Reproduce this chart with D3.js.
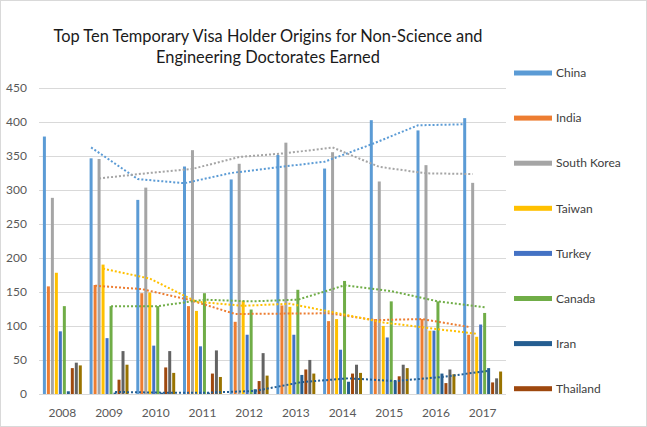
<!DOCTYPE html>
<html>
<head>
  <meta charset="utf-8">
  <script src="https://cdn.jsdelivr.net/npm/d3@7"></script>
  <style>
    body { margin: 0; background: #fff; }
    text { font-family: Lato, "Open Sans", sans-serif; }
  </style>
</head>
<body>
  <svg id="chart" width="647" height="427"></svg>
  <script>
    var years = [2008, 2009, 2010, 2011, 2012, 2013, 2014, 2015, 2016, 2017];
    var countries = ["China", "India", "South Korea", "Taiwan", "Turkey", "Canada", "Iran", "Thailand", "Japan", "Saudi Arabia"];
    var colors = ["#5B9BD5", "#ED7D31", "#A5A5A5", "#FFC000", "#4472C4", "#70AD47", "#255E91", "#9E480E", "#636363", "#997300"];

    var china = [378, 346, 285, 334, 315, 351, 331, 402, 387, 405];
    var india = [158, 160, 148, 129, 106, 130, 107, 110, 110, 87];
    var southKorea = [288, 345, 303, 358, 338, 369, 355, 312, 336, 310];
    var taiwan = [178, 190, 149, 122, 137, 128, 110, 100, 93, 84];
    var turkey = [92, 82, 71, 70, 87, 87, 65, 83, 93, 102];
    var canada = [129, 129, 129, 148, 124, 153, 166, 136, 136, 119];
    var iran = [4, 2, 2, 2, 7, 28, 18, 20, 30, 38];
    var thailand = [38, 21, 39, 30, 19, 36, 30, 26, 16, 17];
    var japan = [46, 63, 63, 64, 60, 50, 43, 43, 36, 23];
    var saudiArabia = [42, 43, 31, 25, 27, 30, 31, 38, 29, 33];

    var values = [china, india, southKorea, taiwan, turkey, canada, iran, thailand, japan, saudiArabia];
    var yTicks = [0, 50, 100, 150, 200, 250, 300, 350, 400, 450];
    // series with a 2-period moving average trendline
    var trendSeries = ["China", "India", "South Korea", "Taiwan", "Canada", "Iran"];
    // legend is cut off after eight entries
    var legendCount = 8;

    var svg = d3.select("#chart");

    svg.append("rect")
      .attr("x", 0.5).attr("y", 0.5)
      .attr("width", 646).attr("height", 426)
      .attr("fill", "#fff")
      .attr("stroke", "#D9D9D9");

    var x = d3.scaleBand()
      .domain(years)
      .range([39, 506]);

    var xInner = d3.scaleBand()
      .domain(countries)
      .range([3.9, x.bandwidth() - 3.9])
      .paddingInner(0.25);

    var y = d3.scaleLinear()
      .domain([0, 450])
      .range([394, 87.5]);

    var color = d3.scaleOrdinal().domain(countries).range(colors);

    // gridlines
    svg.append("g")
      .selectAll("line")
      .data(yTicks)
      .enter()
      .append("line")
      .attr("x1", 39).attr("x2", 506)
      .attr("y1", d => Math.round(y(d)) + 0.5)
      .attr("y2", d => Math.round(y(d)) + 0.5)
      .attr("stroke", "#D9D9D9")
      .attr("stroke-width", 1);

    // y labels
    svg.append("g")
      .selectAll("text")
      .data(yTicks)
      .enter()
      .append("text")
      .attr("x", 27)
      .attr("y", d => y(d))
      .attr("dy", "0.35em")
      .attr("text-anchor", "end")
      .attr("font-size", 12)
      .attr("fill", "#595959")
      .text(d => d);

    // x labels
    svg.append("g")
      .selectAll("text")
      .data(years)
      .enter()
      .append("text")
      .attr("x", d => x(d) + x.bandwidth() / 2)
      .attr("y", 417)
      .attr("text-anchor", "middle")
      .attr("font-size", 12)
      .attr("fill", "#595959")
      .text(d => d);

    // bars
    var series = svg.append("g")
      .selectAll("g")
      .data(countries)
      .enter()
      .append("g")
      .attr("fill", d => color(d));

    series.selectAll("rect")
      .data((c, i) => years.map((yr, j) => ({ country: c, year: yr, value: values[i][j] })))
      .enter()
      .append("rect")
      .attr("x", d => x(d.year) + xInner(d.country))
      .attr("width", xInner.bandwidth())
      .attr("y", d => y(d.value))
      .attr("height", d => y(0) - y(d.value));

    // moving average trendlines
    var line = d3.line()
      .x(d => x(d.year) + xInner(d.country) + xInner.bandwidth() / 2)
      .y(d => y(d.value));

    svg.append("g")
      .selectAll("path")
      .data(trendSeries)
      .enter()
      .append("path")
      .attr("d", c => {
        var v = values[countries.indexOf(c)];
        var pts = years.slice(1).map((yr, j) => ({ country: c, year: yr, value: (v[j] + v[j + 1]) / 2 }));
        return line(pts);
      })
      .attr("fill", "none")
      .attr("stroke", c => color(c))
      .attr("stroke-width", 2)
      .attr("stroke-dasharray", "2 2");

    // title
    svg.append("text")
      .attr("x", 268)
      .attr("text-anchor", "middle")
      .attr("font-size", 16.4)
      .attr("fill", "#1a1a1a")
      .selectAll("tspan")
      .data(["Top Ten Temporary Visa Holder Origins for Non-Science and", "Engineering Doctorates Earned"])
      .enter()
      .append("tspan")
      .attr("x", 268)
      .attr("y", (d, i) => 42 + i * 21)
      .text(d => d);

    // legend
    var legend = svg.append("g")
      .selectAll("g")
      .data(countries.slice(0, legendCount))
      .enter()
      .append("g")
      .attr("transform", (d, i) => "translate(514," + (73 + i * 45.1) + ")");

    legend.append("rect")
      .attr("x", 0).attr("y", -2.5)
      .attr("width", 38).attr("height", 5)
      .attr("fill", d => color(d));

    legend.append("text")
      .attr("x", 42)
      .attr("dy", "0.35em")
      .attr("font-size", 12)
      .attr("fill", "#404040")
      .text(d => d);
  </script>
</body>
</html>
